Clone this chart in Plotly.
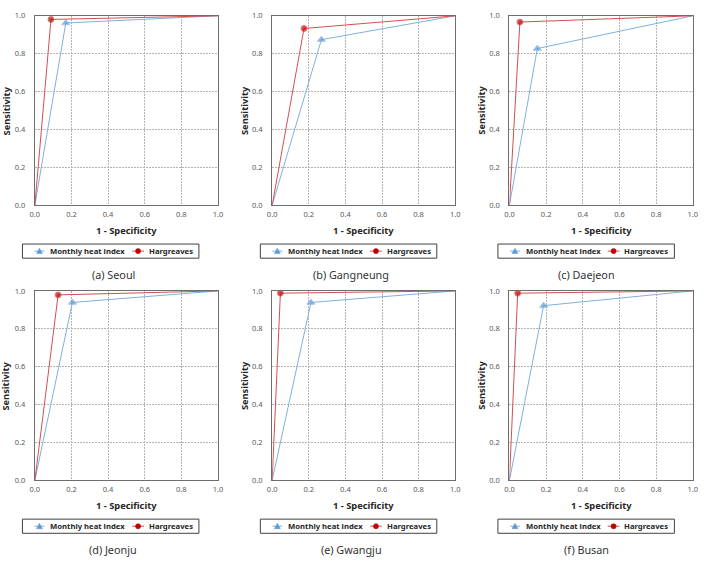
import plotly.graph_objects as go

W, H = 706, 571

# Data: ROC points (1 - specificity, sensitivity)
cities = ["(a) Seoul", "(b) Gangneung", "(c) Daejeon", "(d) Jeonju", "(e) Gwangju", "(f) Busan"]
mhi_fpr = [0.169, 0.269, 0.152, 0.205, 0.212, 0.186]
mhi_tpr = [0.962, 0.874, 0.827, 0.939, 0.939, 0.922]
har_fpr = [0.088, 0.174, 0.057, 0.127, 0.045, 0.045]
har_tpr = [0.981, 0.933, 0.967, 0.979, 0.988, 0.988]
tick_vals = [0.0, 0.2, 0.4, 0.6, 0.8, 1.0]
series_names = ["Monthly heat index", "Hargreaves"]

# layout (pixels)
col_x = [(30.3, 216.0), (271.0, 456.7), (511.7, 697.7)]
row_y = [(11.0, 203.7), (291.0, 483.7)]
legend_left = [17.7, 259.0, 500.0]
ylab_x = [1.0, 243.0, 483.0]
caption_cx = [110.0, 351.0, 590.0]

FONT = "Noto Sans"
GRAY = "#595959"
BORDER = "#6e6e6e"
BLUE_LINE = "#7fb0de"
BLUE_MK = "#5b9bd5"
RED_LINE = "#d0504f"
RED_MK = "#c00000"


def px(x):
    return x / W


def py(y):
    return 1 - y / H


fig = go.Figure()
annotations = []
shapes = []
layout = {}

for i in range(6):
    r, c = divmod(i, 3)
    x0, x1 = col_x[c]
    y0, y1 = row_y[r]
    n = i + 1
    xa = "x" if n == 1 else f"x{n}"
    ya = "y" if n == 1 else f"y{n}"

    fig.add_trace(go.Scatter(
        x=[0.0, mhi_fpr[i], 1.0], y=[0.0, mhi_tpr[i], 1.0],
        mode="lines+markers", name=series_names[0],
        line=dict(color=BLUE_LINE, width=1),
        marker=dict(symbol="triangle-up", size=[0, 7, 0], color=BLUE_MK),
        xaxis=xa, yaxis=ya, cliponaxis=False, showlegend=False,
    ))
    fig.add_trace(go.Scatter(
        x=[0.0, har_fpr[i], 1.0], y=[0.0, har_tpr[i], 1.0],
        mode="lines+markers", name=series_names[1],
        line=dict(color=RED_LINE, width=1),
        marker=dict(symbol="circle", size=[0, 6, 0], color=RED_MK),
        xaxis=xa, yaxis=ya, cliponaxis=False, showlegend=False,
    ))

    axcommon = dict(
        range=[0, 1], tickvals=tick_vals, tickformat=".1f",
        showgrid=True, gridcolor="#b3b3b3", griddash="2px,1px", gridwidth=1,
        zeroline=False, showline=True, mirror=True, linecolor=BORDER, linewidth=1.3,
        ticks="", tickfont=dict(family=FONT, size=7.5, color=GRAY),
        fixedrange=True,
    )
    layout["xaxis" if n == 1 else f"xaxis{n}"] = dict(
        domain=[px(x0), px(x1)], anchor=ya, ticklabelstandoff=2, **axcommon)
    layout["yaxis" if n == 1 else f"yaxis{n}"] = dict(
        domain=[py(y1), py(y0)], anchor=xa, ticklabelstandoff=7, **axcommon)

    # axis titles
    annotations.append(dict(
        text="1 - Specificity", x=px((x0 + x1) / 2), y=py(y1 + 25.5),
        xref="paper", yref="paper", showarrow=False, xanchor="center", yanchor="middle",
        font=dict(family=FONT, size=9.3, color="#262626", weight="bold"),
    ))
    annotations.append(dict(
        text="Sensitivity", x=px(ylab_x[c]), y=py((y0 + y1) / 2),
        xref="paper", yref="paper", showarrow=False, xanchor="center", yanchor="middle",
        textangle=-90,
        font=dict(family=FONT, size=9.3, color="#262626", weight="bold"),
    ))
    # caption
    annotations.append(dict(
        text=cities[i], x=px(caption_cx[c]), y=py(y1 + 70.5),
        xref="paper", yref="paper", showarrow=False, xanchor="center", yanchor="middle",
        font=dict(family=FONT, size=10.8, color="#333333"),
    ))

    # legend box (drawn manually)
    L = legend_left[c]
    top, bot = y1 + 39.6, y1 + 54.0
    cy = (top + bot) / 2
    shapes.append(dict(type="rect", xref="paper", yref="paper",
                       x0=px(L), x1=px(L + 179), y0=py(bot), y1=py(top),
                       line=dict(color="#404040", width=1), fillcolor="white", layer="above"))
    # blue symbol
    shapes.append(dict(type="line", xref="paper", yref="paper",
                       x0=px(L + 12.3), x1=px(L + 22.3), y0=py(cy), y1=py(cy),
                       line=dict(color=BLUE_LINE, width=1), layer="above"))
    tx = L + 17.3
    shapes.append(dict(type="path", xref="paper", yref="paper",
                       path=f"M {px(tx - 3)},{py(cy + 2.5)} L {px(tx + 3)},{py(cy + 2.5)} L {px(tx)},{py(cy - 3)} Z",
                       line=dict(color=BLUE_MK, width=0.5), fillcolor=BLUE_MK, layer="above"))
    annotations.append(dict(
        text=series_names[0], x=px(L + 26.0), y=py(cy),
        xref="paper", yref="paper", showarrow=False, xanchor="left", yanchor="middle",
        font=dict(family=FONT, size=7.7, color="#262626", weight="bold"),
    ))
    # red symbol
    shapes.append(dict(type="line", xref="paper", yref="paper",
                       x0=px(L + 111.3), x1=px(L + 123.3), y0=py(cy), y1=py(cy),
                       line=dict(color=RED_LINE, width=1), layer="above"))
    cx = L + 117.3
    shapes.append(dict(type="circle", xref="paper", yref="paper",
                       x0=px(cx - 2.6), x1=px(cx + 2.6), y0=py(cy + 2.6), y1=py(cy - 2.6),
                       line=dict(color=RED_MK, width=0.5), fillcolor=RED_MK, layer="above"))
    annotations.append(dict(
        text=series_names[1], x=px(L + 126.0), y=py(cy),
        xref="paper", yref="paper", showarrow=False, xanchor="left", yanchor="middle",
        font=dict(family=FONT, size=7.7, color="#262626", weight="bold"),
    ))

fig.update_layout(
    width=W, height=H, margin=dict(l=0, r=0, t=0, b=0),
    paper_bgcolor="white", plot_bgcolor="white",
    showlegend=False, annotations=annotations, shapes=shapes, **layout,
)

fig.write_html("out.html", config={"displayModeBar": False})
